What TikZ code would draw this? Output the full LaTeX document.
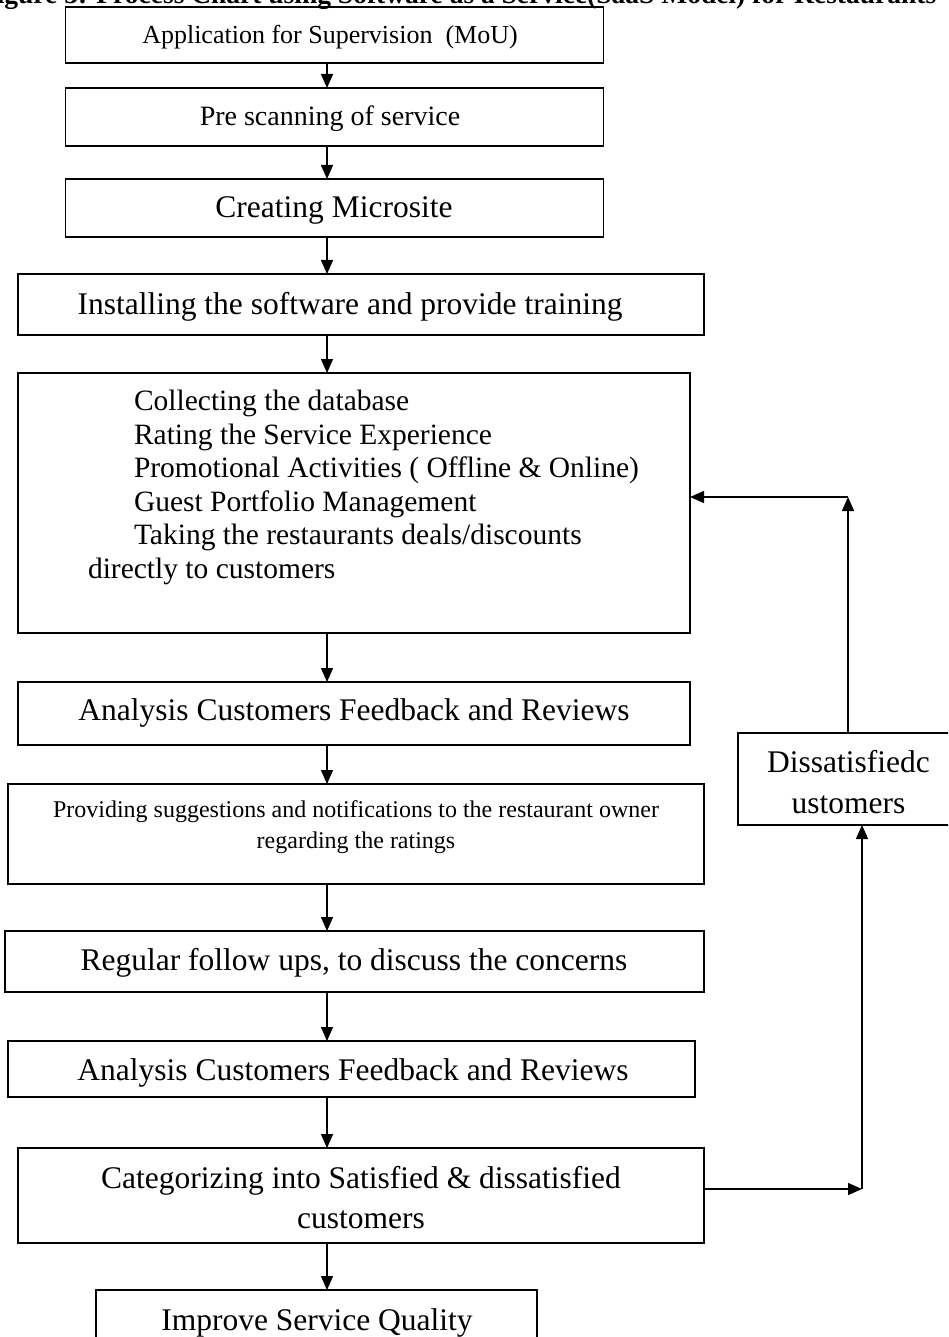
\documentclass[tikz,border=0pt]{standalone}
\usepackage{fontspec}
\setmainfont{Liberation Serif}
\usetikzlibrary{arrows.meta}
\begin{document}
\begin{tikzpicture}[x=1pt,y=-1pt,
  box/.style={draw=black, line width=1.7pt, inner sep=0pt, outer sep=0pt},
  arr/.style={draw=black, line width=1.4pt, -{Triangle[length=14pt,width=12pt]}},
  txt/.style={inner sep=0pt, outer sep=0pt, anchor=base},
  big/.style={font=\fontsize{31.5}{36}\selectfont},
  mid/.style={font=\fontsize{29.5}{34}\selectfont},
  small/.style={font=\fontsize{24}{28}\selectfont}]
\useasboundingbox (0,0) rectangle (948,1337);
\clip (0,0) rectangle (948,1337);

% title (cut off at the top edge, as in the reference)
\node[txt, anchor=base west, font=\fontsize{27.5}{31}\selectfont\bfseries] (title) at (-20,4)
  {Figure 3: Process Chart using Software as a Service(SaaS Model) for Restaurants};

% boxes
\node[box, minimum width=538pt, minimum height=56pt] (b1) at (334.5,35) {};
\node[box, minimum width=538pt, minimum height=58pt] (b2) at (334.5,117) {};
\node[box, minimum width=538pt, minimum height=58pt] (b3) at (334.5,208) {};
\node[box, minimum width=686pt, minimum height=61pt] (b4) at (361,304.5) {};
\node[box, minimum width=672pt, minimum height=260pt] (b5) at (354,503) {};
\node[box, minimum width=672pt, minimum height=63pt] (b6) at (354,713.5) {};
\node[box, minimum width=696pt, minimum height=100pt] (b7) at (356,834) {};
\node[box, minimum width=699pt, minimum height=61pt] (b8) at (354.5,961.5) {};
\node[box, minimum width=687pt, minimum height=56pt] (b9) at (351.5,1069) {};
\node[box, minimum width=686pt, minimum height=95pt] (b10) at (361,1195.5) {};
\node[box, minimum width=441pt, minimum height=64pt] (b11) at (316.5,1322) {};
\node[box, minimum width=220pt, minimum height=92pt] (dis) at (848,779) {};

% texts
\node[txt, font=\fontsize{26}{30}\selectfont] (t1) at (330,43.5) {Application for Supervision\ \ (MoU)};
\node[txt, font=\fontsize{28}{32}\selectfont] (t2) at (330,126) {Pre scanning of service};
\node[txt, big] (t3) at (334,218) {Creating Microsite};
\node[txt, big] (t4) at (350,314) {Installing the software and provide training};

\node[txt, mid, anchor=base west] (l1) at (134,410.5) {Collecting the database};
\node[txt, mid, anchor=base west] (l2) at (134,444) {Rating the Service Experience};
\node[txt, mid, anchor=base west] (l3) at (134,477.5) {Promotional Activities ( Offline \& Online)};
\node[txt, mid, anchor=base west] (l4) at (134,511) {Guest Portfolio Management};
\node[txt, mid, anchor=base west] (l5) at (134,544.5) {Taking the restaurants deals/discounts};
\node[txt, mid, anchor=base west] (l6) at (88,578) {directly to customers};

\node[txt, big] (t6) at (354,720) {Analysis Customers Feedback and Reviews};
\node[txt, small] (t7a) at (356,817) {Providing suggestions and notifications to the restaurant owner};
\node[txt, small] (t7b) at (356,848) {regarding the ratings};
\node[txt, big] (t8) at (354,970) {Regular follow ups, to discuss the concerns};
\node[txt, big] (t9) at (353,1080) {Analysis Customers Feedback and Reviews};
\node[txt, big] (t10a) at (361,1188) {Categorizing into Satisfied \& dissatisfied};
\node[txt, big] (t10b) at (361,1228) {customers};
\node[txt, big] (t11) at (317,1330) {Improve Service Quality};
\node[txt, big] (d1) at (848.5,772) {Dissatisfiedc};
\node[txt, big] (d2) at (848.5,813) {ustomers};

% connector helper coordinates
\coordinate (mx) at (327,0);
\coordinate (fx) at (848,497);
\coordinate (gx) at (862,1189);

% main flow
\draw[arr] (b1.south -| mx) -- (b2.north -| mx);
\draw[arr] (b2.south -| mx) -- (b3.north -| mx);
\draw[arr] (b3.south -| mx) -- (b4.north -| mx);
\draw[arr] (b4.south -| mx) -- (b5.north -| mx);
\draw[arr] (b5.south -| mx) -- (b6.north -| mx);
\draw[arr] (b6.south -| mx) -- (b7.north -| mx);
\draw[arr] (b7.south -| mx) -- (b8.north -| mx);
\draw[arr] (b8.south -| mx) -- (b9.north -| mx);
\draw[arr] (b9.south -| mx) -- (b10.north -| mx);
\draw[arr] (b10.south -| mx) -- (b11.north -| mx);

% feedback loop
\draw[arr] (b10.east |- gx) -- (gx);
\draw[arr] (gx) -- (dis.south -| gx);
\draw[arr] (dis.north -| fx) -- (fx);
\draw[arr] (fx) -- (b5.east |- fx);
\end{tikzpicture}
\end{document}
